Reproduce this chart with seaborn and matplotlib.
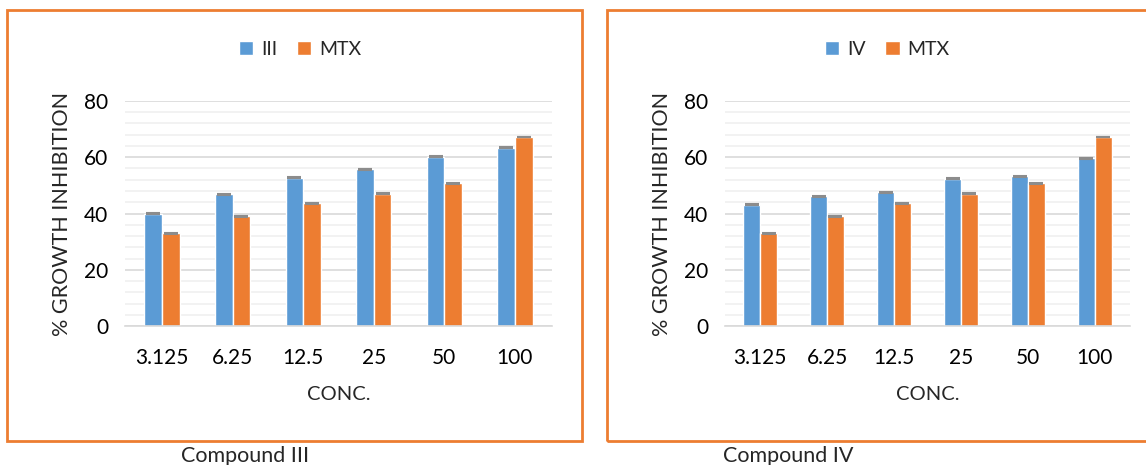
import pandas as pd
import matplotlib.pyplot as plt
import matplotlib.patches as mpatches
from matplotlib.ticker import MultipleLocator
import seaborn as sns

# Data
conc = ['3.125', '6.25', '12.5', '25', '50', '100']
comp_iii = [39.9, 46.9, 52.7, 55.7, 60.2, 63.4]
comp_iv = [43.1, 46.1, 47.6, 52.3, 53.3, 59.7]
mtx = [33.0, 39.0, 43.6, 47.0, 50.8, 67.2]

blue = '#5B9BD5'
orange = '#ED7D31'

sns.set_theme(style="white")
plt.rcParams['font.family'] = ['Lato', 'DejaVu Sans']

W, H = 1146, 465
fig = plt.figure(figsize=(W / 100, H / 100), dpi=100)


def draw_panel(ax, name, values, legend_x):
    df = pd.DataFrame({
        'conc': conc * 2,
        'value': values + mtx,
        'series': [name] * len(conc) + ['MTX'] * len(conc),
    })
    sns.barplot(data=df, x='conc', y='value', hue='series', order=conc,
                palette=[blue, orange], width=0.5, gap=0, errorbar=None,
                saturation=1, ax=ax)
    # small error caps on top of each bar
    for bar in ax.patches:
        if bar.get_height() > 0:
            ax.errorbar(bar.get_x() + bar.get_width() / 2, bar.get_height(),
                        yerr=0.15, color='#8C8C8C', capsize=5, capthick=1.5,
                        elinewidth=1, zorder=4)
    ax.set_ylim(0, 80)
    ax.yaxis.set_major_locator(MultipleLocator(20))
    ax.yaxis.set_minor_locator(MultipleLocator(4))
    ax.grid(axis='y', which='major', color='#D9D9D9', lw=1.2)
    ax.grid(axis='y', which='minor', color='#F0F0F0', lw=1.2)
    ax.set_axisbelow(True)
    for s in ['top', 'right', 'left']:
        ax.spines[s].set_visible(False)
    ax.spines['bottom'].set_color('#D9D9D9')
    ax.spines['bottom'].set_linewidth(1.2)
    ax.tick_params(axis='both', length=0, labelsize=15, colors='black')
    ax.tick_params(axis='x', pad=16)
    ax.tick_params(axis='y', pad=12)
    ax.set_xlabel('CONC.', fontsize=14.5, labelpad=13)
    ax.set_ylabel('% GROWTH INHIBITION', fontsize=15.5, labelpad=9)
    handles, labels = ax.get_legend_handles_labels()
    ax.legend(handles, labels, loc='center', bbox_to_anchor=(legend_x, 1.231),
              ncol=2, frameon=False, fontsize=14, handlelength=0.75,
              handleheight=0.75, handletextpad=0.4, columnspacing=1.0)


ax1 = fig.add_axes([125 / W, (H - 326) / H, 427 / W, 225 / H])
ax2 = fig.add_axes([725 / W, (H - 326) / H, 405 / W, 225 / H])
draw_panel(ax1, 'III', comp_iii, 0.41)
draw_panel(ax2, 'IV', comp_iv, 0.40)

# orange chart-area borders
fig.patches.append(mpatches.Rectangle((7 / W, (H - 441) / H), 575 / W, 431 / H,
                                      transform=fig.transFigure, fill=False,
                                      edgecolor=orange, lw=2))
fig.patches.append(mpatches.Rectangle((607 / W, (H - 441) / H), 545 / W, 431 / H,
                                      transform=fig.transFigure, fill=False,
                                      edgecolor=orange, lw=2))

fig.text(245 / W, (H - 456) / H, 'Compound III', ha='center', va='center', fontsize=15.5)
fig.text(788 / W, (H - 456) / H, 'Compound IV', ha='center', va='center', fontsize=15.5)

fig.savefig('out.png', dpi=100)
